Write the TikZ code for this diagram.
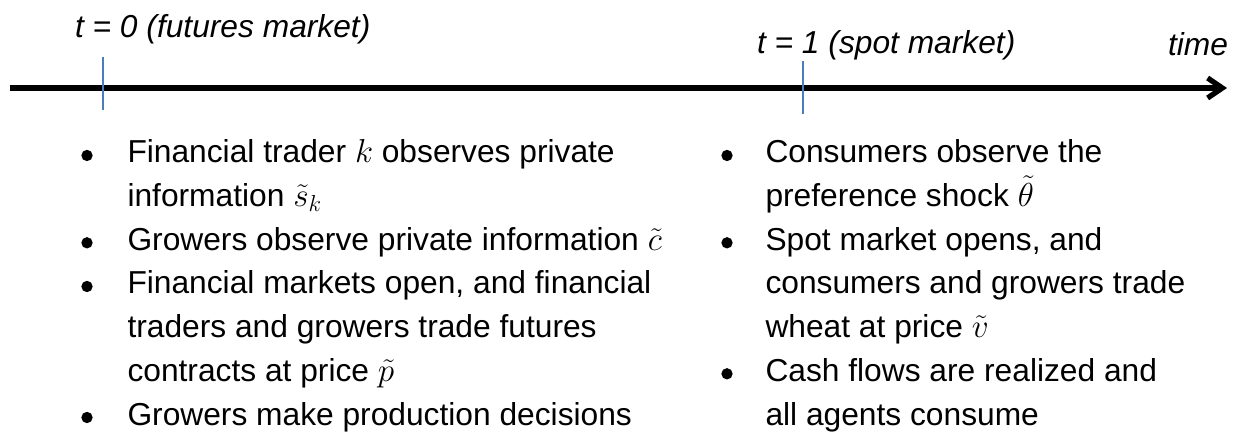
\documentclass[tikz,border=0pt]{standalone}
\usepackage{fontspec}
\setmainfont{Liberation Sans}
\usetikzlibrary{arrows.meta}
\definecolor{tickblue}{RGB}{74,126,187}
\tikzset{
  txt/.style={anchor=base west, inner sep=0pt, outer sep=0pt, font=\fontsize{23.8}{28}\selectfont},
  lab/.style={anchor=base west, inner sep=0pt, outer sep=0pt, font=\fontsize{23.8}{28}\selectfont\itshape},
  bul/.style={circle, fill=black, inner sep=0pt, minimum size=8.5pt},
  tick/.style={draw=tickblue, line width=0.9pt},
  timeline/.style={line width=4pt, -{Straight Barb[length=11pt,width=15pt]}}
}
\begin{document}
\begin{tikzpicture}[x=0.75pt,y=-0.75pt]
\path[use as bounding box] (0,0) rectangle (1238,434);
% timeline
\coordinate (ts) at (10,88);
\coordinate (te) at (1227,88);
\draw[timeline] (ts) -- (te);
\coordinate (t0a) at (103,57);
\coordinate (t0b) at (103,110);
\coordinate (t1a) at (803,61);
\coordinate (t1b) at (803,114);
\draw[tick] (t0a) -- (t0b);
\draw[tick] (t1a) -- (t1b);
% labels
\node[lab] (l0) at (75,38) {t = 0 (futures market)};
\node[lab] (l1) at (757,54) {t = 1 (spot market)};
\node[lab, anchor=base east] (lt) at (1228,56) {time};
% left column
\node[bul] (b1) at (87,155.5) {};
\node[bul] (b2) at (87,242.8) {};
\node[bul] (b3) at (87,286.5) {};
\node[bul] (b4) at (87,417.5) {};
\node[txt] (a1) at (127.5,163) {Financial trader $k$ observes private};
\node[txt] (a2) at (127.5,206.7) {information $\tilde{s}_k$};
\node[txt] (a3) at (127.5,250.3) {Growers observe private information $\tilde{c}$};
\node[txt] (a4) at (127.5,294) {Financial markets open, and financial};
\node[txt] (a5) at (127.5,337.7) {traders and growers trade futures};
\node[txt] (a6) at (127.5,381.3) {contracts at price $\tilde{p}$};
\node[txt] (a7) at (127.5,425) {Growers make production decisions};
% right column
\node[bul] (c1) at (727,155.5) {};
\node[bul] (c2) at (727,242.8) {};
\node[bul] (c3) at (727,373.8) {};
\node[txt] (r1) at (765.5,163) {Consumers observe the};
\node[txt] (r2) at (765.5,206.7) {preference shock $\tilde{\theta}$};
\node[txt] (r3) at (765.5,250.3) {Spot market opens, and};
\node[txt] (r4) at (765.5,294) {consumers and growers trade};
\node[txt] (r5) at (765.5,337.7) {wheat at price $\tilde{v}$};
\node[txt] (r6) at (765.5,381.3) {Cash flows are realized and};
\node[txt] (r7) at (765.5,425) {all agents consume};
\end{tikzpicture}
\end{document}
